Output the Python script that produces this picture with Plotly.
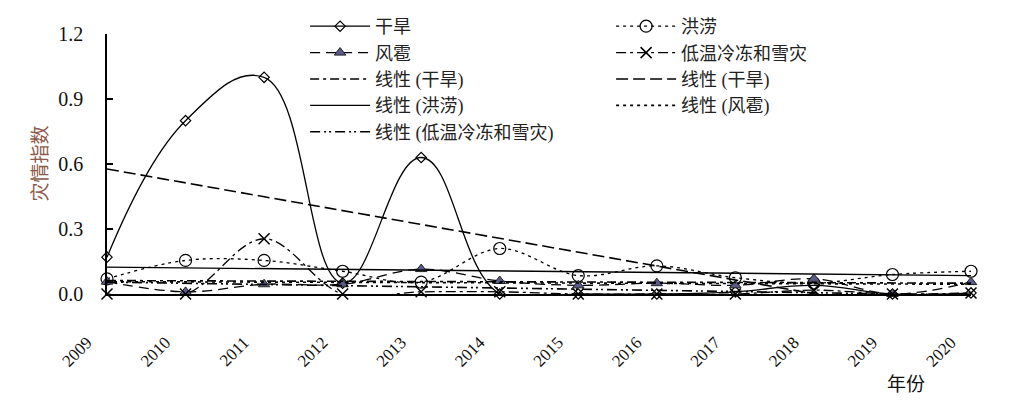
import plotly.graph_objects as go

years = [2009, 2010, 2011, 2012, 2013, 2014, 2015, 2016, 2017, 2018, 2019, 2020]

# disaster index by type
drought = [0.17, 0.80, 1.00, 0.05, 0.63, 0.00, 0.00, 0.00, 0.01, 0.04, 0.00, 0.005]
flood = [0.07, 0.155, 0.155, 0.105, 0.055, 0.21, 0.085, 0.13, 0.075, 0.05, 0.09, 0.105]
hail = [0.057, 0.01, 0.045, 0.045, 0.115, 0.06, 0.04, 0.05, 0.04, 0.07, 0.00, 0.055]
cold = [0.00, 0.00, 0.255, 0.00, 0.01, 0.01, 0.00, 0.00, 0.00, 0.018, 0.00, 0.005]

# linear trend lines: value at first and last year
trend_years = [2009, 2020]
trend_a = [0.062, 0.050]      # 线性 (干旱), dash-dot
trend_drought = [0.577, -0.127]
trend_flood = [0.124, 0.085]
trend_hail = [0.057, 0.045]
trend_cold = [0.055, -0.005]

serif = "Liberation Serif, Noto Sans CJK SC"
ink = "#111111"

fig = go.Figure()

def series(y, name, dash, marker, smooth=1):
    fig.add_trace(go.Scatter(
        x=years, y=y, name=name, mode="lines+markers",
        line=dict(color="black", width=1.3, dash=dash, shape="spline", smoothing=smooth),
        marker=marker, cliponaxis=False
    ))

series(drought, "干旱", "solid",
       dict(symbol="diamond-open", size=8, color="black", line=dict(width=1.2)), 1.2)
series(flood, "洪涝", "3px,4px",
       dict(symbol="circle-open", size=12, color="black", line=dict(width=1.2)))
series(hail, "风雹", "10px,6px",
       dict(symbol="triangle-up", size=10, color="#5a5a8c", line=dict(color="#222", width=1)))
series(cold, "低温冷冻和雪灾", "10px,4px,3px,4px",
       dict(symbol="x-thin-open", size=11, color="black", line=dict(width=1.5)))

def trend(y, name, dash, width=1.6):
    fig.add_trace(go.Scatter(
        x=trend_years, y=y, name=name, mode="lines",
        line=dict(color="black", width=width, dash=dash)
    ))

trend(trend_a, "线性 (干旱)", "9px,4px,3px,4px")
trend(trend_drought, "线性 (干旱)", "12px,5px")
trend(trend_flood, "线性 (洪涝)", "solid", 1.4)
trend(trend_hail, "线性 (风雹)", "3px,4px")
trend(trend_cold, "线性 (低温冷冻和雪灾)", "10px,4px,2px,3px,2px,4px")

# page body adds 8px offset, margins compensate
fig.update_layout(
    width=1014, height=412,
    margin=dict(l=99, r=51, t=26, b=126, autoexpand=False),
    paper_bgcolor="white", plot_bgcolor="white",
    font=dict(family=serif, color=ink),
    showlegend=True,
    legend=dict(
        orientation="h", xref="container", yref="container",
        x=0.293, y=1.0, xanchor="left", yanchor="top",
        entrywidth=231, entrywidthmode="pixels", itemwidth=60,
        font=dict(size=18, family=serif, color="#222"),
        bgcolor="rgba(0,0,0,0)", traceorder="normal"
    ),
    xaxis=dict(
        range=[2009, 2020], tickvals=years, ticktext=[str(v) for v in years],
        tickangle=-45, showgrid=False, zeroline=False, automargin=False,
        showline=True, linecolor="black", linewidth=1.5, ticks="",
        ticklabelstandoff=30, ticklabelshift=-20,
        tickfont=dict(size=17, family=serif, color=ink)
    ),
    yaxis=dict(
        range=[0, 1.2], dtick=0.3, tickformat=".1f", showgrid=False, zeroline=False,
        showline=True, linecolor="black", linewidth=1.5, automargin=False,
        ticks="inside", ticklen=6, tickwidth=1.5, tickcolor="black",
        ticklabelstandoff=18,
        tickfont=dict(size=20, family=serif, color=ink)
    ),
    annotations=[
        dict(text="灾情指数", xref="paper", yref="paper", x=-0.078, y=0.5,
             textangle=-90, showarrow=False, xanchor="center", yanchor="middle",
             font=dict(size=19, family=serif, color="#8b5a4a")),
        dict(text="年份", xref="paper", yref="paper", x=0.925, y=-0.348,
             showarrow=False, xanchor="center", yanchor="middle",
             font=dict(size=19, family=serif, color=ink)),
    ]
)

fig.write_html("out.html")
